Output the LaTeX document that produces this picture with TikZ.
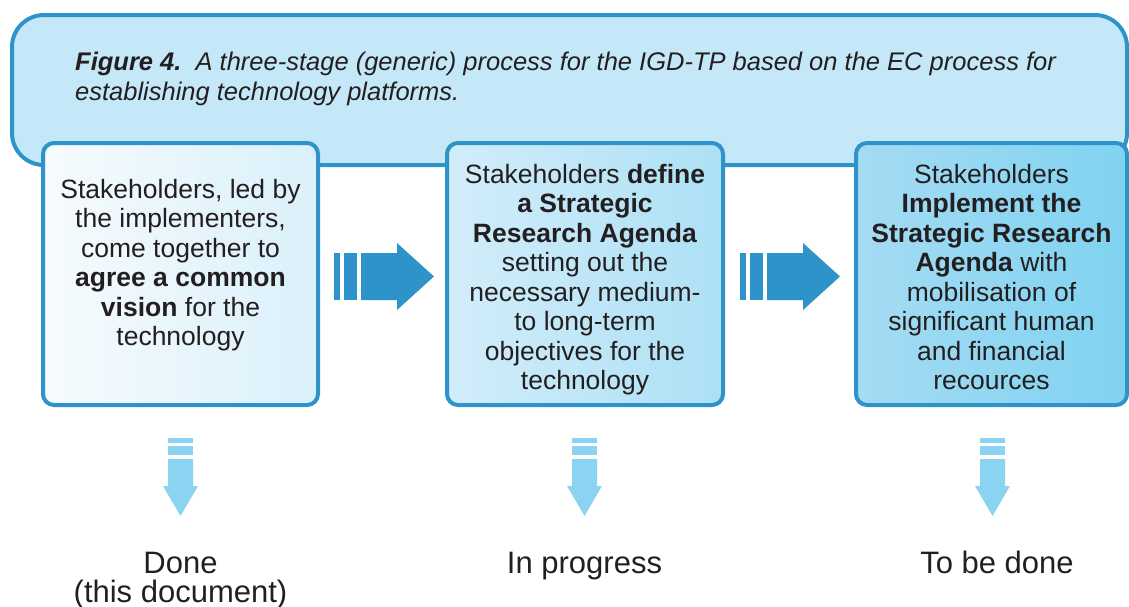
\documentclass[tikz,border=0pt]{standalone}
\usepackage{fontspec}
\setmainfont{Liberation Sans}
\definecolor{edgeblue}{HTML}{2E93C8}
\definecolor{bannerfill}{HTML}{C5E8F8}
\definecolor{arrowblue}{HTML}{2E93C8}
\definecolor{downblue}{HTML}{8AD4F2}
\definecolor{ink}{HTML}{231F20}
\definecolor{boxAl}{HTML}{F6FBFE}
\definecolor{boxAr}{HTML}{DAF0FA}
\definecolor{boxBl}{HTML}{D2EDFA}
\definecolor{boxBr}{HTML}{ADE0F5}
\definecolor{boxCl}{HTML}{A6DBF3}
\definecolor{boxCr}{HTML}{7FD3F1}
\tikzset{
  banner/.style={draw=edgeblue,line width=4pt,fill=bannerfill,rounded corners=32pt},
  stagebox/.style={draw=edgeblue,line width=4pt,rounded corners=11pt},
  stagetext/.style={align=center,text=ink,font=\fontsize{26.5}{29.5}\selectfont,inner sep=0pt},
  captext/.style={anchor=base west,inner sep=0pt,text=ink,font=\fontsize{25.5}{30}\selectfont\itshape},
  outcome/.style={align=center,text=ink,font=\fontsize{31}{29}\selectfont,inner sep=0pt},
  rarrow/.style={fill=arrowblue,draw=none},
  darrow/.style={fill=downblue,draw=none}
}
\begin{document}
\begin{tikzpicture}[x=1pt,y=-1pt]
\useasboundingbox (0,0) rectangle (1129,606);
% banner
\draw[banner] (12,15) rectangle (1127,165);
\node[captext] (cap1) at (75,70)
  {\textbf{Figure 4.}\ \ A three-stage (generic) process for the IGD-TP based on the EC process for};
\node[captext] (cap2) at (75,100)
  {establishing technology platforms.};
% stage boxes
\draw[stagebox,left color=boxAl,right color=boxAr] (43,143) rectangle (318,405);
\draw[stagebox,left color=boxBl,right color=boxBr] (447,143) rectangle (723,405);
\draw[stagebox,left color=boxCl,right color=boxCr] (856,143) rectangle (1127,405);
% texts (anchor base = baseline of last line)
\node[stagetext,anchor=base] (t1) at (180.5,345.5)
  {Stakeholders, led by\\the implementers,\\come together to\\\textbf{agree a common}\\\textbf{vision} for the\\technology};
\node[stagetext,anchor=base] (t2) at (585,389.5)
  {Stakeholders \textbf{define}\\\textbf{a Strategic}\\\textbf{Research Agenda}\\setting out the\\necessary medium-\\to long-term\\objectives for the\\technology};
\node[stagetext,anchor=base] (t3) at (991.5,389.5)
  {Stakeholders\\\textbf{Implement the}\\\textbf{Strategic Research}\\\textbf{Agenda} with\\mobilisation of\\significant human\\and financial\\recources};
% right arrows
\foreach \dx in {0,406}{
  \begin{scope}[xshift=\dx]
    \fill[rarrow] (334,253) rectangle (339.5,300);
    \fill[rarrow] (344,253) rectangle (357,300);
    \fill[rarrow] (361,253) -- (397,253) -- (397,243) -- (434,276.5) -- (397,310) -- (397,300) -- (361,300) -- cycle;
  \end{scope}
}
% down arrows
\foreach \cx in {180.5,584.5,992.5}{
  \begin{scope}[xshift=\cx]
    \fill[darrow] (-12.5,438) rectangle (12.5,442.5);
    \fill[darrow] (-12.5,446) rectangle (12.5,455);
    \fill[darrow] (-12.5,459) -- (12.5,459) -- (12.5,486) -- (17.5,486) -- (0,516) -- (-17.5,486) -- (-12.5,486) -- cycle;
  \end{scope}
}
% outcomes
\node[outcome,anchor=base] (o1) at (180.5,602) {Done\\(this document)};
\node[outcome,anchor=base] (o2) at (584.5,573) {In progress};
\node[outcome,anchor=base] (o3) at (997,573) {To be done};
\end{tikzpicture}
\end{document}
